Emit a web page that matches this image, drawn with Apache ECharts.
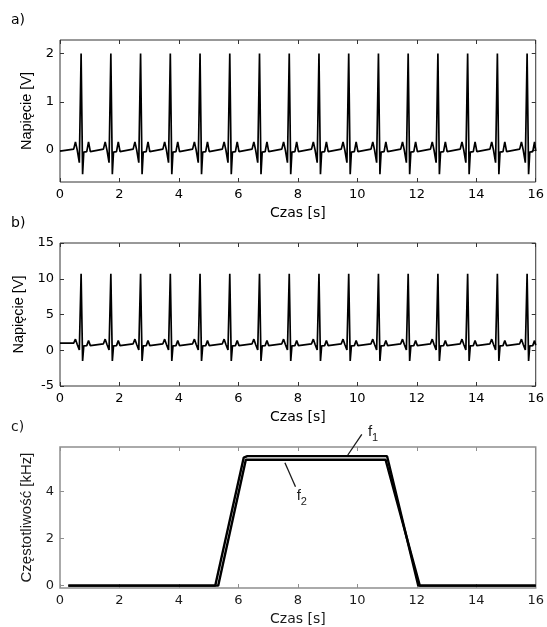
<!DOCTYPE html>
<html><head><meta charset="utf-8">
<script src="https://cdn.jsdelivr.net/npm/echarts@6/dist/echarts.min.js"></script>
<style>html,body{margin:0;padding:0;background:#fff}#c{width:547px;height:627px}</style>
</head><body><div id="c"></div><script>
// ---------- data ----------
const panelLabels = ['a)', 'b)', 'c)'];
const xName = 'Czas [s]';
const yNames = ['Napięcie [V]', 'Napięcie [V]', 'Częstotliwość [kHz]'];
const xRange = [0, 16];
const xTickStep = 2;
const yRangeA = [-0.66, 2.28];
const yRangeB = [-5, 15];
const yRangeC = [-0.1, 5.9];
const yTicksA = [0, 1, 2];
const yTicksB = [-5, 0, 5, 10, 15];
const yTicksC = [0, 2, 4];

// ECG time samples (s), one row per heart beat
const ecgTime = [
  0.00,
  0.46, 0.52, 0.58, 0.62, 0.65, 0.71, 0.76, 0.80, 0.90, 0.96, 1.02,
  1.46, 1.52, 1.58, 1.62, 1.65, 1.71, 1.76, 1.80, 1.90, 1.96, 2.02,
  2.46, 2.52, 2.58, 2.62, 2.65, 2.71, 2.76, 2.80, 2.90, 2.96, 3.02,
  3.46, 3.52, 3.58, 3.62, 3.65, 3.71, 3.76, 3.80, 3.90, 3.96, 4.02,
  4.46, 4.52, 4.58, 4.62, 4.65, 4.71, 4.76, 4.80, 4.90, 4.96, 5.02,
  5.46, 5.52, 5.58, 5.62, 5.65, 5.71, 5.76, 5.80, 5.90, 5.96, 6.02,
  6.46, 6.52, 6.58, 6.62, 6.65, 6.71, 6.76, 6.80, 6.90, 6.96, 7.02,
  7.46, 7.52, 7.58, 7.62, 7.65, 7.71, 7.76, 7.80, 7.90, 7.96, 8.02,
  8.46, 8.52, 8.58, 8.62, 8.65, 8.71, 8.76, 8.80, 8.90, 8.96, 9.02,
  9.46, 9.52, 9.58, 9.62, 9.65, 9.71, 9.76, 9.80, 9.90, 9.96, 10.02,
  10.46, 10.52, 10.58, 10.62, 10.65, 10.71, 10.76, 10.80, 10.90, 10.96, 11.02,
  11.46, 11.52, 11.58, 11.62, 11.65, 11.71, 11.76, 11.80, 11.90, 11.96, 12.02,
  12.46, 12.52, 12.58, 12.62, 12.65, 12.71, 12.76, 12.80, 12.90, 12.96, 13.02,
  13.46, 13.52, 13.58, 13.62, 13.65, 13.71, 13.76, 13.80, 13.90, 13.96, 14.02,
  14.46, 14.52, 14.58, 14.62, 14.65, 14.71, 14.76, 14.80, 14.90, 14.96, 15.02,
  15.46, 15.52, 15.58, 15.62, 15.65, 15.71, 15.76, 15.80, 15.90, 15.96, 16.00
];
// panel a) voltage (V)
const ecgA = [
  -0.02,
  0.02, 0.17, 0.00, -0.01, -0.26, 2.00, -0.50, -0.04, -0.03, 0.17, -0.03,
  0.02, 0.17, 0.00, -0.01, -0.26, 2.00, -0.50, -0.04, -0.03, 0.17, -0.03,
  0.02, 0.17, 0.00, -0.01, -0.26, 2.00, -0.50, -0.04, -0.03, 0.17, -0.03,
  0.02, 0.17, 0.00, -0.01, -0.26, 2.00, -0.50, -0.04, -0.03, 0.17, -0.03,
  0.02, 0.17, 0.00, -0.01, -0.26, 2.00, -0.50, -0.04, -0.03, 0.17, -0.03,
  0.02, 0.17, 0.00, -0.01, -0.26, 2.00, -0.50, -0.04, -0.03, 0.17, -0.03,
  0.02, 0.17, 0.00, -0.01, -0.26, 2.00, -0.50, -0.04, -0.03, 0.17, -0.03,
  0.02, 0.17, 0.00, -0.01, -0.26, 2.00, -0.50, -0.04, -0.03, 0.17, -0.03,
  0.02, 0.17, 0.00, -0.01, -0.26, 2.00, -0.50, -0.04, -0.03, 0.17, -0.03,
  0.02, 0.17, 0.00, -0.01, -0.26, 2.00, -0.50, -0.04, -0.03, 0.17, -0.03,
  0.02, 0.17, 0.00, -0.01, -0.26, 2.00, -0.50, -0.04, -0.03, 0.17, -0.03,
  0.02, 0.17, 0.00, -0.01, -0.26, 2.00, -0.50, -0.04, -0.03, 0.17, -0.03,
  0.02, 0.17, 0.00, -0.01, -0.26, 2.00, -0.50, -0.04, -0.03, 0.17, -0.03,
  0.02, 0.17, 0.00, -0.01, -0.26, 2.00, -0.50, -0.04, -0.03, 0.17, -0.03,
  0.02, 0.17, 0.00, -0.01, -0.26, 2.00, -0.50, -0.04, -0.03, 0.17, -0.03,
  0.02, 0.17, 0.00, -0.01, -0.26, 2.00, -0.50, -0.04, -0.03, 0.17, -0.02
];
// panel b) voltage (V)
const ecgB = [
  1.00,
  1.00, 1.55, 0.80, 0.75, 0.05, 10.70, -1.50, 0.60, 0.65, 1.35, 0.65,
  0.90, 1.55, 0.80, 0.75, 0.05, 10.70, -1.50, 0.60, 0.65, 1.35, 0.65,
  0.90, 1.55, 0.80, 0.75, 0.05, 10.70, -1.50, 0.60, 0.65, 1.35, 0.65,
  0.90, 1.55, 0.80, 0.75, 0.05, 10.70, -1.50, 0.60, 0.65, 1.35, 0.65,
  0.90, 1.55, 0.80, 0.75, 0.05, 10.70, -1.50, 0.60, 0.65, 1.35, 0.65,
  0.90, 1.55, 0.80, 0.75, 0.05, 10.70, -1.50, 0.60, 0.65, 1.35, 0.65,
  0.90, 1.55, 0.80, 0.75, 0.05, 10.70, -1.50, 0.60, 0.65, 1.35, 0.65,
  0.90, 1.55, 0.80, 0.75, 0.05, 10.70, -1.50, 0.60, 0.65, 1.35, 0.65,
  0.90, 1.55, 0.80, 0.75, 0.05, 10.70, -1.50, 0.60, 0.65, 1.35, 0.65,
  0.90, 1.55, 0.80, 0.75, 0.05, 10.70, -1.50, 0.60, 0.65, 1.35, 0.65,
  0.90, 1.55, 0.80, 0.75, 0.05, 10.70, -1.50, 0.60, 0.65, 1.35, 0.65,
  0.90, 1.55, 0.80, 0.75, 0.05, 10.70, -1.50, 0.60, 0.65, 1.35, 0.65,
  0.90, 1.55, 0.80, 0.75, 0.05, 10.70, -1.50, 0.60, 0.65, 1.35, 0.65,
  0.90, 1.55, 0.80, 0.75, 0.05, 10.70, -1.50, 0.60, 0.65, 1.35, 0.65,
  0.90, 1.55, 0.80, 0.75, 0.05, 10.70, -1.50, 0.60, 0.65, 1.35, 0.65,
  0.90, 1.55, 0.80, 0.75, 0.05, 10.70, -1.50, 0.60, 0.65, 1.35, 0.70
];
// panel c) frequencies (kHz)
const f1Time = [0.28, 5.22, 6.18, 6.30, 11.00, 12.05, 16.00];
const f1Val  = [0.00, 0.00, 5.45, 5.51, 5.51, 0.00, 0.00];
const f2Time = [0.28, 5.32, 6.25, 10.95, 12.10, 16.00];
const f2Val  = [0.00, 0.00, 5.36, 5.36, 0.00, 0.00];
// annotation anchors (data coordinates of panel c)
const f1Leader = [[10.15, 6.44], [9.68, 5.56]];
const f1Text = [10.43, 6.56];
const f2Leader = [[7.565, 5.23], [7.92, 4.21]];
const f2Text = [8.03, 3.80];

// ---------- chart ----------
const pair = (xs, ys) => xs.map((x, i) => [x, ys[i]]);
const chart = echarts.init(document.getElementById('c'), null, {renderer: 'canvas'});

const gridPos = [
  {left: 60, top: 40, width: 478, height: 142},
  {left: 60, top: 243, width: 478, height: 143},
  {left: 60, top: 447, width: 478, height: 143}
];
const frameCol = ['#333', '#333', '#8f8f8f'];
const textCol = ['#000', '#000', '#1a1a1a'];
const yRanges = [yRangeA, yRangeB, yRangeC];
const yTicks = [yTicksA, yTicksB, yTicksC];
const yNameSize = [14.5, 14.5, 15];

const grids = gridPos.map((g, i) => Object.assign({
  show: true, borderColor: frameCol[i], borderWidth: i === 2 ? 1.5 : 1,
  backgroundColor: 'transparent', containLabel: false
}, g));

const xAxes = [], yAxes = [];
for (let g = 0; g < 3; g++) {
  const tick = {show: true, inside: true, length: 4, lineStyle: {color: frameCol[g], width: 1}};
  const base = {type: 'value', gridIndex: g, min: xRange[0], max: xRange[1], interval: xTickStep,
    splitLine: {show: false}, axisLine: {show: false, onZero: false}, axisTick: tick};
  xAxes.push(Object.assign({}, base, {
    position: 'bottom',
    name: xName, nameLocation: 'middle', nameGap: 24,
    nameTextStyle: {fontFamily: 'DejaVu Sans', fontSize: 14, color: textCol[g]},
    axisLabel: {show: true, margin: 6, fontFamily: 'DejaVu Sans', fontSize: 13, color: textCol[g],
      showMinLabel: true, showMaxLabel: true}
  }));
  xAxes.push(Object.assign({}, base, {position: 'top', axisLabel: {show: false}}));

  const ybase = {type: 'value', gridIndex: g, min: yRanges[g][0], max: yRanges[g][1],
    splitLine: {show: false}, axisLine: {show: false, onZero: false},
    axisTick: Object.assign({}, tick, {customValues: yTicks[g]})};
  yAxes.push(Object.assign({}, ybase, {
    position: 'left',
    name: yNames[g], nameLocation: 'middle', nameGap: 20, nameRotate: 90,
    nameTextStyle: {fontFamily: 'Liberation Sans', fontSize: yNameSize[g], color: textCol[g]},
    axisLabel: {show: true, margin: 6, fontFamily: 'DejaVu Sans', fontSize: 13, color: textCol[g],
      customValues: yTicks[g]}
  }));
  yAxes.push(Object.assign({}, ybase, {position: 'right', axisLabel: {show: false}}));
}

const lineSeries = (name, data, g, width) => ({
  name, type: 'line', data, xAxisIndex: 2 * g, yAxisIndex: 2 * g,
  showSymbol: false, symbol: 'none', animation: false, smooth: false,
  lineStyle: {color: '#000', width}, clip: true, z: 3
});

chart.setOption({
  animation: false,
  grid: grids,
  xAxis: xAxes,
  yAxis: yAxes,
  series: [
    lineSeries('a', pair(ecgTime, ecgA), 0, 1.7),
    lineSeries('b', pair(ecgTime, ecgB), 1, 1.7),
    lineSeries('f1', pair(f1Time, f1Val), 2, 2.4),
    lineSeries('f2', pair(f2Time, f2Val), 2, 2.4)
  ]
});

// annotations placed through panel c's scales
const px = (pt) => chart.convertToPixel({seriesIndex: 2}, pt);
const graphics = [];
panelLabels.forEach((t, i) => {
  graphics.push({type: 'text', left: 11, top: gridPos[i].top - 27,
    style: {text: t, font: '14px "DejaVu Sans"', fill: textCol[i]}});
});
function leader(pts) {
  const a = px(pts[0]), b = px(pts[1]);
  graphics.push({type: 'line', shape: {x1: a[0], y1: a[1], x2: b[0], y2: b[1]},
    style: {stroke: '#1a1a1a', lineWidth: 1.3}, z: 10});
}
function label(pt, sub) {
  const p = px(pt);
  graphics.push({type: 'text', x: p[0], y: p[1], z: 10,
    style: {text: 'f', font: '15px "Liberation Sans"', fill: '#1a1a1a', align: 'center', verticalAlign: 'middle'}});
  graphics.push({type: 'text', x: p[0] + 5, y: p[1] + 6, z: 10,
    style: {text: sub, font: '11px "Liberation Sans"', fill: '#1a1a1a', align: 'center', verticalAlign: 'middle'}});
}
leader(f1Leader); label(f1Text, '1');
leader(f2Leader); label(f2Text, '2');
chart.setOption({graphic: graphics});
</script></body></html>
